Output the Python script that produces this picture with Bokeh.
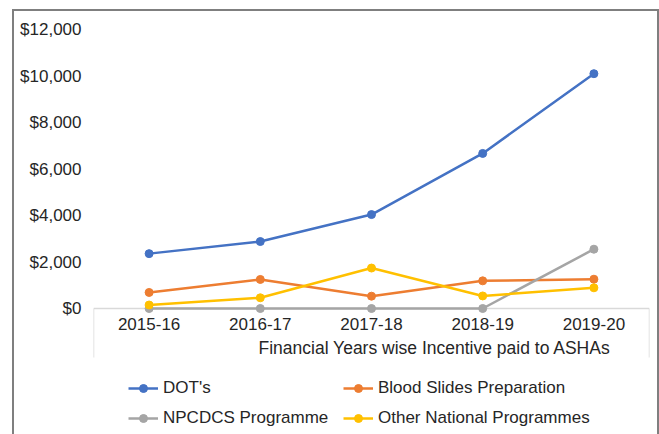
from bokeh.plotting import figure
from bokeh.models import (FactorRange, Range1d, NumeralTickFormatter, FixedTicker, Span,
                          Legend, LegendItem, Label, Arrow, ColumnDataSource, InlineStyleSheet)
from bokeh.core.properties import value
from bokeh.embed import file_html
from bokeh.resources import INLINE

years = ["2015-16", "2016-17", "2017-18", "2018-19", "2019-20"]
dots = [2360, 2880, 4040, 6670, 10100]
blood = [690, 1250, 530, 1190, 1260]
npcdcs = [0, 0, 0, 0, 2550]
other = [150, 460, 1740, 540, 890]
y_ticks = [0, 2000, 4000, 6000, 8000, 10000, 12000]
x_title = "Financial Years wise Incentive paid to ASHAs"

FONT = "Liberation Sans"
TXT = "#262626"
FS = "17px"

# frame: value axis 0..12000 spans 279 px; frame continues 126 px below zero for category labels + legend
PX = 12000 / 279.0
y_bottom = -126 * PX

p = figure(width=659, height=434, frame_width=556, frame_height=405,
           x_range=FactorRange(*years, range_padding=0),
           y_range=Range1d(y_bottom, 12000), output_backend="svg", toolbar_location=None,
           x_axis_location=None,
           min_border_left=93, min_border_right=10, min_border_top=29, min_border_bottom=0)

p.grid.grid_line_color = None
p.outline_line_color = None

p.yaxis.ticker = FixedTicker(ticks=y_ticks)
p.yaxis.formatter = NumeralTickFormatter(format="$0,0")
p.yaxis.axis_line_color = None
p.yaxis.major_tick_line_color = None
p.yaxis.minor_tick_line_color = None
p.yaxis.major_label_standoff = 6
p.yaxis.major_label_text_font = FONT
p.yaxis.major_label_text_font_size = FS
p.yaxis.major_label_text_color = TXT

# category axis: baseline, labels, title box
p.add_layout(Span(location=0, dimension="width", line_color="#d9d9d9", line_width=1.5,
                  level="underlay"))
p.text(x=years, y=[-15 * PX] * len(years), text=years, text_align="center",
       text_baseline="middle", text_font=value(FONT), text_font_size=FS, text_color=TXT)
for xs in (0, 5):
    p.add_layout(Arrow(end=None, x_start=xs, y_start=0, x_end=xs, y_end=-49 * PX,
                       line_color="#d9d9d9", line_width=1.5, level="underlay"))
p.add_layout(Label(x=0, y=-39 * PX, x_offset=165, text=x_title, text_align="left",
                   text_baseline="middle", text_font=FONT, text_font_size="17.5px",
                   text_color=TXT))

series = [("DOT's", dots, "#4472C4"), ("Blood Slides Preparation", blood, "#ED7D31"),
          ("NPCDCS Programme", npcdcs, "#A5A5A5"), ("Other National Programmes", other, "#FFC000")]

items = []
for name, vals, col in series:
    src = ColumnDataSource(dict(x=years, y=vals))
    l = p.line("x", "y", source=src, line_color=col, line_width=2.5)
    s = p.scatter("x", "y", source=src, size=8, fill_color=col, line_color=col)
    items.append(LegendItem(label=name, renderers=[l, s]))

lg = Legend(items=items, location=(35, 1), orientation="horizontal", ncols=2,
            padding=0, margin=0, spacing=0, glyph_width=30, glyph_height=20,
            label_height=30, label_width=180, label_standoff=5, label_text_font=FONT,
            label_text_font_size=FS, label_text_color=TXT,
            border_line_color=None, background_fill_alpha=0)
p.add_layout(lg, "center")

css = InlineStyleSheet(css="""
:host::after { content: ""; position: absolute; left: 12px; top: 9px; width: 647px; height: 425px;
  border: 2px solid #7f7f7f; border-bottom: none; box-sizing: border-box; pointer-events: none; z-index: 10; }
""")
p.stylesheets = [css]

open("out.html", "w").write(file_html(p, INLINE))
